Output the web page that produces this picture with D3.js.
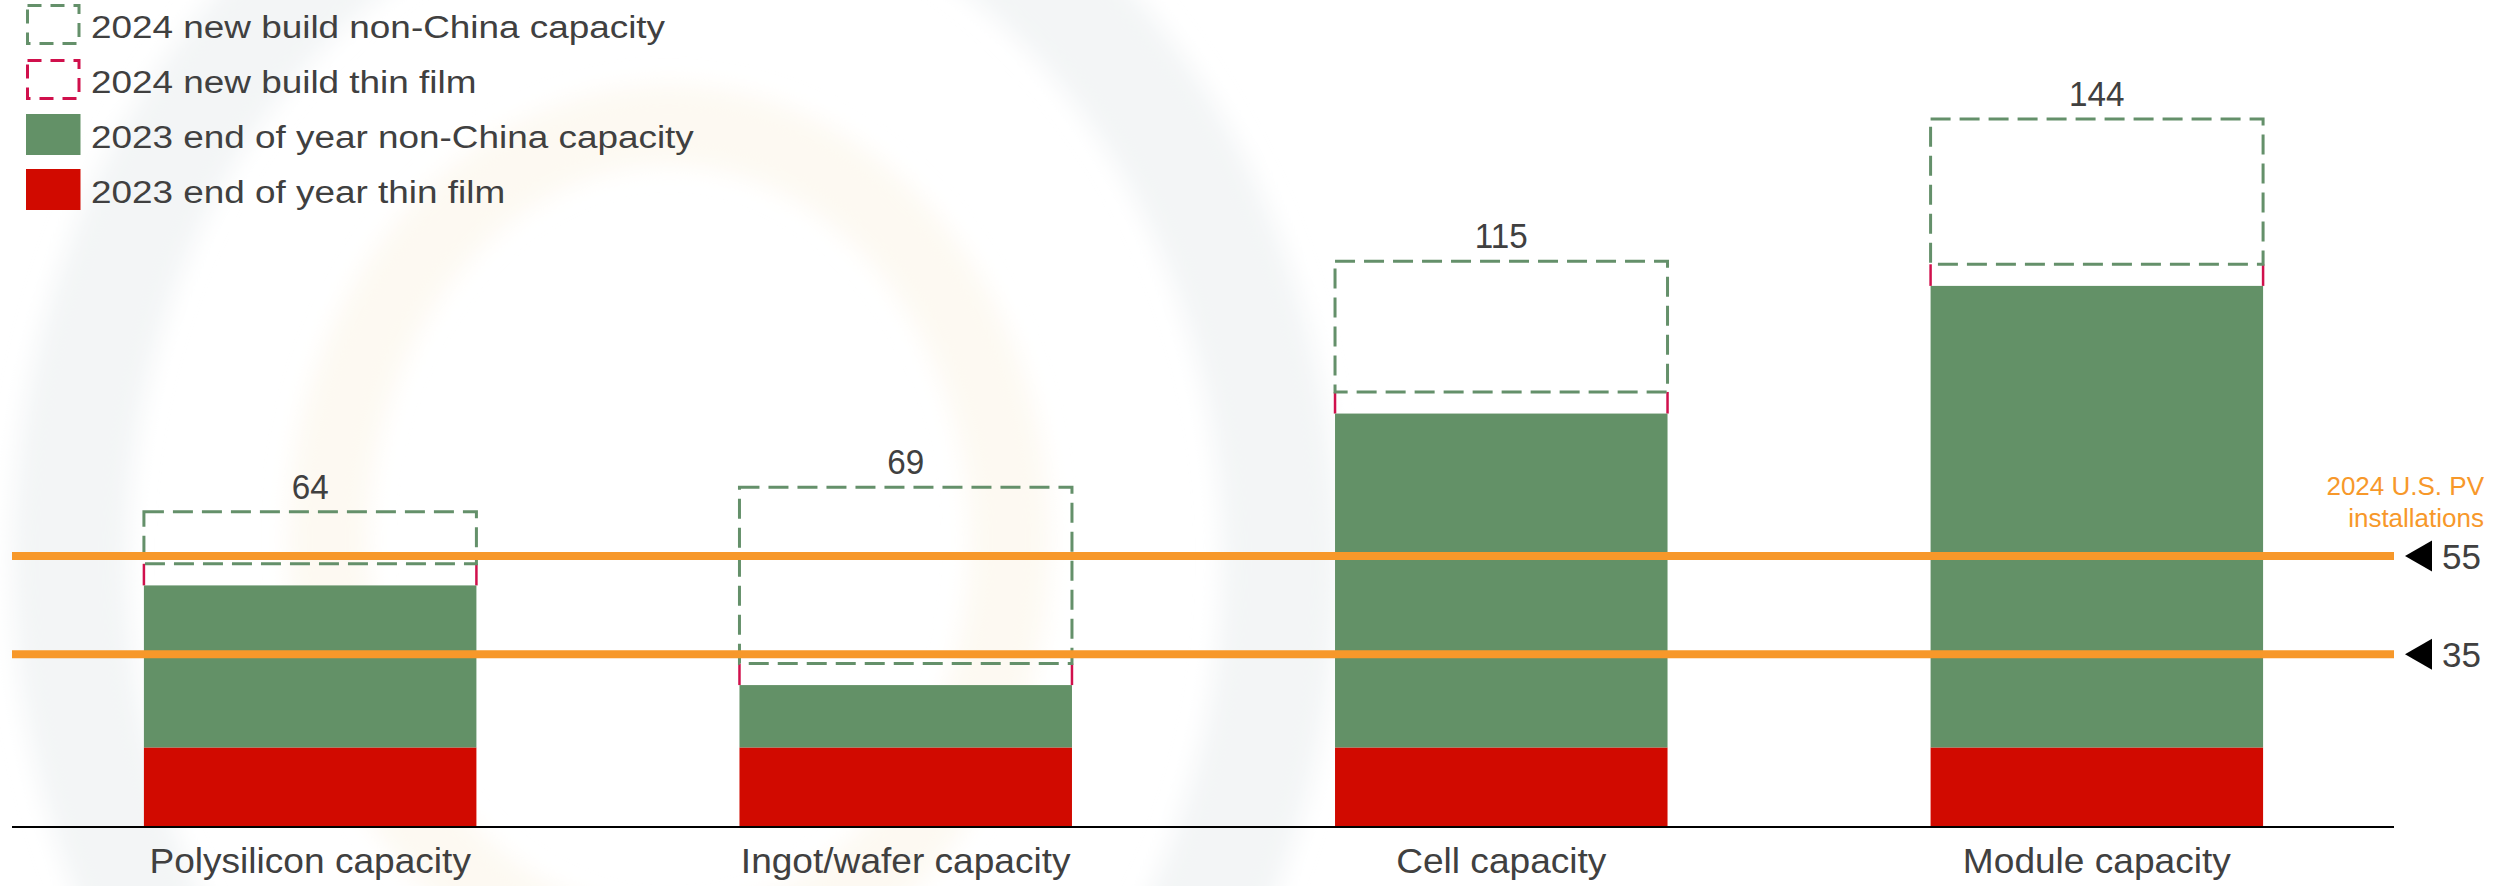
<!DOCTYPE html>
<html>
<head>
<meta charset="utf-8">
<script src="https://cdn.jsdelivr.net/npm/d3@7/dist/d3.min.js"></script>
<style>
  html, body { margin: 0; padding: 0; background: #ffffff; }
  svg { display: block; font-family: "Liberation Sans", Arial, sans-serif; }
</style>
</head>
<body>
<svg id="chart" width="2499" height="886"></svg>
<script>
// Non-China PV manufacturing capacity (GW), by supply-chain stage
const categories = ["Polysilicon capacity", "Ingot/wafer capacity", "Cell capacity", "Module capacity"];
const thinFilm2023 = [16, 16, 16, 16];
const nonChina2023 = [33, 12.7, 68, 94];
const thinFilmNew2024 = [4.4, 4.4, 4.4, 4.4];
const nonChinaNew2024 = [10.6, 35.9, 26.6, 29.6];
const totalLabels = ["64", "69", "115", "144"];

// 2024 U.S. PV installation reference levels (GW)
const installLevels = [55, 35];
const installTitle = ["2024 U.S. PV", "installations"];

const legendItems = [
  { label: "2024 new build non-China capacity", kind: "dash", color: "#64906a" },
  { label: "2024 new build thin film", kind: "dash", color: "#d0104c" },
  { label: "2023 end of year non-China capacity", kind: "fill", color: "#639167" },
  { label: "2023 end of year thin film", kind: "fill", color: "#d10a00" }
];

const C = {
  red: "#d10a00",
  green: "#639167",
  greenLine: "#64906a",
  crimson: "#d0104c",
  orange: "#f7982a",
  text: "#404040"
};

const svg = d3.select("#chart");

// faint watermark swirl in the background
const defs = svg.append("defs");
defs.append("filter").attr("id", "soft")
  .attr("x", "-20%").attr("y", "-20%").attr("width", "140%").attr("height", "140%")
  .append("feGaussianBlur").attr("stdDeviation", 12);
const bg = svg.append("g").attr("filter", "url(#soft)");
bg.append("ellipse").attr("cx", 675).attr("cy", 560).attr("rx", 605).attr("ry", 726)
  .attr("fill", "none").attr("stroke", "#f3f5f6").attr("stroke-width", 115);
bg.append("ellipse").attr("cx", 669).attr("cy", 540).attr("rx", 341).attr("ry", 415)
  .attr("fill", "none").attr("stroke", "#fdf9f2").attr("stroke-width", 80);

const x = d3.scaleBand()
  .domain(categories)
  .range([12, 2395])
  .paddingInner(0.4417)
  .paddingOuter(0.2215);

const y = d3.scaleLinear().domain([0, 160]).range([826, 40.4]);

const rows = categories.map((c, i) => {
  const a = thinFilm2023[i];
  const b = a + nonChina2023[i];
  const t = b + thinFilmNew2024[i];
  const g = t + nonChinaNew2024[i];
  return { cat: c, tf: a, nc: b, tfn: t, ncn: g, label: totalLabels[i] };
});

const bars = svg.append("g");

// 2024 new build thin film: only its side edges show between the stacked layers
const sides = rows.flatMap(d => [
  { d, xPos: x(d.cat) },
  { d, xPos: x(d.cat) + x.bandwidth() }
]);
bars.selectAll("line.tfn").data(sides).join("line")
  .attr("x1", s => s.xPos).attr("x2", s => s.xPos)
  .attr("y1", s => y(s.d.tfn)).attr("y2", s => y(s.d.nc))
  .attr("stroke", C.crimson)
  .attr("stroke-width", 2.5);

// 2023 thin film
bars.selectAll("rect.tf").data(rows).join("rect")
  .attr("x", d => x(d.cat))
  .attr("width", x.bandwidth())
  .attr("y", d => y(d.tf))
  .attr("height", d => y(0) - y(d.tf))
  .attr("fill", C.red);

// 2023 non-China capacity
bars.selectAll("rect.nc").data(rows).join("rect")
  .attr("x", d => x(d.cat))
  .attr("width", x.bandwidth())
  .attr("y", d => y(d.nc))
  .attr("height", d => y(d.tf) - y(d.nc))
  .attr("fill", C.green);

// 2024 new build non-China (dashed green outline)
bars.selectAll("rect.ncn").data(rows).join("rect")
  .attr("x", d => x(d.cat))
  .attr("width", x.bandwidth())
  .attr("y", d => y(d.ncn))
  .attr("height", d => y(d.tfn) - y(d.ncn))
  .attr("fill", "none")
  .attr("stroke", C.greenLine)
  .attr("stroke-width", 3)
  .attr("stroke-dasharray", "20,9");

// totals
bars.selectAll("text.total").data(rows).join("text")
  .attr("transform", d => `translate(${x(d.cat) + x.bandwidth() / 2},${y(d.ncn) - 13}) scale(0.95,1)`)
  .attr("text-anchor", "middle")
  .attr("font-size", 35)
  .attr("fill", C.text)
  .text(d => d.label);

// installation reference lines
const ref = svg.append("g");
ref.selectAll("line").data(installLevels).join("line")
  .attr("x1", 12).attr("x2", 2394)
  .attr("y1", d => y(d)).attr("y2", d => y(d))
  .attr("stroke", C.orange)
  .attr("stroke-width", 8);

ref.selectAll("path.marker").data(installLevels).join("path")
  .attr("d", d => `M2405,${y(d)} L2432,${y(d) - 15.5} L2432,${y(d) + 15.5} Z`)
  .attr("fill", "#000000");

ref.selectAll("text.level").data(installLevels).join("text")
  .attr("x", 2442)
  .attr("y", d => y(d) + 13)
  .attr("font-size", 35)
  .attr("fill", C.text)
  .text(d => d);

ref.selectAll("text.title").data(installTitle).join("text")
  .attr("x", 2484)
  .attr("y", (d, i) => 495 + i * 32)
  .attr("text-anchor", "end")
  .attr("font-size", 26)
  .attr("fill", C.orange)
  .text(d => d);

// x axis
const axis = svg.append("g").attr("transform", `translate(0,${y(0) + 1})`)
  .call(d3.axisBottom(x).tickSize(0).tickPadding(0));
axis.select(".domain").attr("d", "M12,0H2394").attr("stroke", "#000").attr("stroke-width", 2.2);
axis.selectAll(".tick text")
  .attr("font-family", "Liberation Sans, Arial, sans-serif")
  .attr("font-size", 35)
  .attr("fill", C.text)
  .attr("dy", null)
  .attr("y", null)
  .attr("transform", "translate(0,46) scale(1.06,1)");

// legend
const legend = svg.append("g");
const li = legend.selectAll("g").data(legendItems).join("g")
  .attr("transform", (d, i) => `translate(0,${i * 55})`);
li.append("rect")
  .attr("x", d => d.kind === "dash" ? 27.5 : 26)
  .attr("y", d => d.kind === "dash" ? 5.5 : 4)
  .attr("width", d => d.kind === "dash" ? 51.5 : 54.5)
  .attr("height", d => d.kind === "dash" ? 38 : 41)
  .attr("fill", d => d.kind === "dash" ? "none" : d.color)
  .attr("stroke", d => d.kind === "dash" ? d.color : "none")
  .attr("stroke-width", 3)
  .attr("stroke-dasharray", d => d.kind === "dash" ? "14,9" : null);
li.append("text")
  .attr("transform", "translate(91,38) scale(1.19,1)")
  .attr("font-size", 31)
  .attr("fill", C.text)
  .text(d => d.label);
</script>
</body>
</html>
